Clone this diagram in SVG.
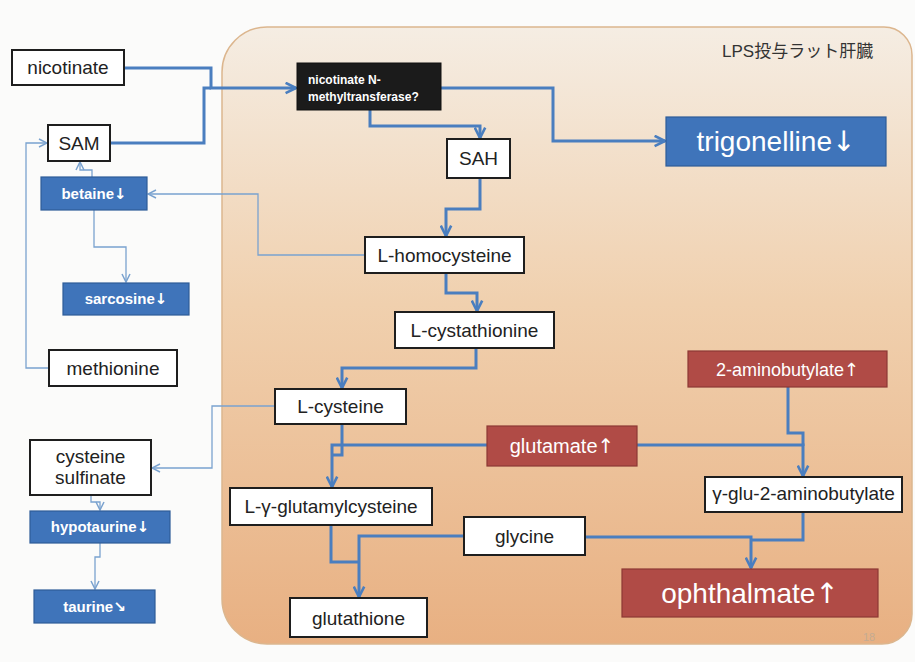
<svg xmlns="http://www.w3.org/2000/svg" width="915" height="662" viewBox="0 0 915 662">
<defs>
<linearGradient id="panelGrad" x1="0" y1="0" x2="0" y2="1">
<stop offset="0" stop-color="#f5ede3"/>
<stop offset="0.45" stop-color="#f0d0ae"/>
<stop offset="1" stop-color="#e8b082"/>
</linearGradient>
<marker id="ah" viewBox="0 0 10 10" refX="9" refY="5" markerWidth="13" markerHeight="13" markerUnits="userSpaceOnUse" orient="auto">
<path d="M1,1 L9,5 L1,9" fill="none" stroke="#4a7ebf" stroke-width="2"/>
</marker>
<marker id="ahThin" viewBox="0 0 10 10" refX="9" refY="5" markerWidth="10" markerHeight="10" markerUnits="userSpaceOnUse" orient="auto">
<path d="M1,1 L9,5 L1,9" fill="none" stroke="#7aa2cf" stroke-width="1.5"/>
</marker>
</defs>
<style>
text { font-family: "Liberation Sans", Arial, sans-serif; }
.wbox { fill: #ffffff; stroke: #1e1e1e; stroke-width: 2; }
.bbox { fill: #3f74ba; stroke: #2e5c98; stroke-width: 1.2; }
.rbox { fill: #b04b46; stroke: #8d3834; stroke-width: 1.2; }
.kbox { fill: #1b1b1b; stroke: #111; stroke-width: 1; }
.wt { fill: #222; font-size: 19px; text-anchor: middle; }
.bt { fill: #ffffff; font-size: 15px; font-weight: bold; text-anchor: middle; }
.rt { fill: #ffffff; text-anchor: middle; }
.ar { font-family: "DejaVu Sans", sans-serif; }
.thick { fill: none; stroke: #4a7ebf; stroke-width: 3; }
.thin { fill: none; stroke: #7aa2cf; stroke-width: 1.3; }
</style>
<rect x="0" y="0" width="915" height="662" fill="#fbfbfa"/>
<path d="M267,27 H884 A28,28 0 0 1 912,55 V614 A30,30 0 0 1 882,644 H267 A45,45 0 0 1 222,599 V72 A45,45 0 0 1 267,27 Z" fill="url(#panelGrad)" stroke="#dcb68e" stroke-width="1.5"/>
<text x="722" y="57" font-size="17" fill="#333" style="font-family: 'Liberation Sans', 'Noto Sans CJK JP', sans-serif;">LPS投与ラット肝臓</text>
<text x="863" y="641" font-size="11" fill="#c4ab92">18</text>

<g id="connectors">
<path class="thick" d="M124,68 H211 V88 H296" marker-end="url(#ah)"/>
<path class="thick" d="M110,143 H204 V88 H211"/>
<path class="thick" d="M370,110 V126 H480 V138" marker-end="url(#ah)"/>
<path class="thick" d="M441,88 H553 V141 H665" marker-end="url(#ah)"/>
<path class="thick" d="M480,178 V209 H446 V236" marker-end="url(#ah)"/>
<path class="thick" d="M446,273 V293 H477 V311" marker-end="url(#ah)"/>
<path class="thick" d="M476,348 V368 H342 V388" marker-end="url(#ah)"/>
<path class="thick" d="M342,424 V455 H332"/>
<path class="thick" d="M487,445 H332 V487" marker-end="url(#ah)"/>
<path class="thick" d="M637,445 H803 V476" marker-end="url(#ah)"/>
<path class="thick" d="M788,387 V433 H803 V446"/>
<path class="thick" d="M331,525 V562 H359"/>
<path class="thick" d="M464,536 H359 V597" marker-end="url(#ah)"/>
<path class="thick" d="M585,537 H751 V568" marker-end="url(#ah)"/>
<path class="thick" d="M803,512 V540 H751"/>
<path class="thin" d="M365,255 H258 V194 H148" marker-end="url(#ahThin)"/>
<path class="thin" d="M92,177 V170 H80 V162" marker-end="url(#ahThin)"/>
<path class="thin" d="M94,210 V247 H126 V282" marker-end="url(#ahThin)"/>
<path class="thin" d="M49,368 H26 V143 H47" marker-end="url(#ahThin)"/>
<path class="thin" d="M275,406 H212 V468 H152" marker-end="url(#ahThin)"/>
<path class="thin" d="M91,495 V502 H100 V510" marker-end="url(#ahThin)"/>
<path class="thin" d="M100,543 V557 H95 V589" marker-end="url(#ahThin)"/>
</g>

<g id="nicotinate"><rect class="wbox" x="12" y="50" width="112" height="35"/><text class="wt" x="68" y="74">nicotinate</text></g>
<g id="SAM"><rect class="wbox" x="48" y="125" width="62" height="36"/><text class="wt" x="79" y="150">SAM</text></g>
<g id="betaine"><rect class="bbox" x="41" y="177" width="106" height="33"/><text class="bt" x="94" y="199">betaine<tspan class="ar">↓</tspan></text></g>
<g id="sarcosine"><rect class="bbox" x="63" y="283" width="126" height="32"/><text class="bt" x="126" y="304">sarcosine<tspan class="ar">↓</tspan></text></g>
<g id="methionine"><rect class="wbox" x="49" y="350" width="128" height="36"/><text class="wt" x="113" y="375">methionine</text></g>
<g id="cysteine-sulfinate"><rect class="wbox" x="30" y="440" width="121" height="55"/><text class="wt" x="90.5" y="463" font-size="16">cysteine</text><text class="wt" x="90.5" y="484" font-size="16">sulfinate</text></g>
<g id="hypotaurine"><rect class="bbox" x="30" y="511" width="140" height="32"/><text class="bt" x="100" y="532">hypotaurine<tspan class="ar">↓</tspan></text></g>
<g id="taurine"><rect class="bbox" x="34" y="590" width="121" height="33"/><text class="bt" x="94.5" y="612">taurine<tspan class="ar">↘</tspan></text></g>
<g id="nmt"><rect class="kbox" x="297" y="63" width="144" height="47"/><text x="308" y="84" font-size="12" font-weight="bold" fill="#fff">nicotinate N-</text><text x="308" y="101" font-size="12" font-weight="bold" fill="#fff">methyltransferase?</text></g>
<g id="SAH"><rect class="wbox" x="447" y="139" width="63" height="39"/><text class="wt" x="478.5" y="165">SAH</text></g>
<g id="trigonelline"><rect class="bbox" x="666" y="117" width="220" height="49"/><text class="rt" x="776" y="151" font-size="28">trigonelline<tspan class="ar">↓</tspan></text></g>
<g id="homocysteine"><rect class="wbox" x="365" y="237" width="159" height="36"/><text class="wt" x="444.5" y="262">L-homocysteine</text></g>
<g id="cystathionine"><rect class="wbox" x="395" y="312" width="159" height="36"/><text class="wt" x="474.5" y="337">L-cystathionine</text></g>
<g id="cysteine"><rect class="wbox" x="275" y="389" width="131" height="35"/><text class="wt" x="340.5" y="413">L-cysteine</text></g>
<g id="glutamate"><rect class="rbox" x="487" y="426" width="150" height="40"/><text class="rt" x="562" y="453" font-size="20">glutamate<tspan class="ar">↑</tspan></text></g>
<g id="glutamylcysteine"><rect class="wbox" x="230" y="488" width="202" height="37"/><text class="wt" x="331" y="513" font-size="18">L-γ-glutamylcysteine</text></g>
<g id="glycine"><rect class="wbox" x="464" y="517" width="121" height="38"/><text class="wt" x="524.5" y="543">glycine</text></g>
<g id="glutathione"><rect class="wbox" x="290" y="598" width="137" height="39"/><text class="wt" x="358.5" y="625">glutathione</text></g>
<g id="aminobutylate"><rect class="rbox" x="688" y="351" width="199" height="36"/><text class="rt" x="787.5" y="376" font-size="18">2-aminobutylate<tspan class="ar">↑</tspan></text></g>
<g id="glu-aminobutylate"><rect class="wbox" x="705" y="477" width="197" height="35"/><text class="wt" x="803.5" y="500" font-size="15">γ-glu-2-aminobutylate</text></g>
<g id="ophthalmate"><rect class="rbox" x="622" y="569" width="256" height="48"/><text class="rt" x="750" y="603" font-size="28">ophthalmate<tspan class="ar">↑</tspan></text></g>
</svg>
